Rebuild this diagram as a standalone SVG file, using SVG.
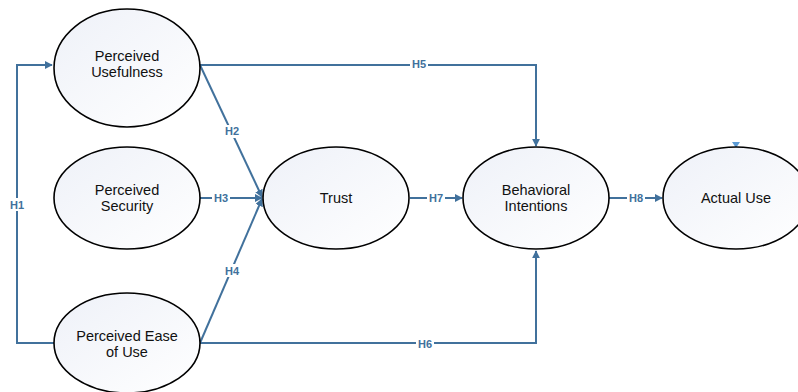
<svg xmlns="http://www.w3.org/2000/svg" width="798" height="392" viewBox="0 0 798 392">
<defs>
<linearGradient id="g" x1="0" y1="0" x2="1" y2="1">
<stop offset="0" stop-color="#eef1f8"/>
<stop offset="1" stop-color="#ffffff"/>
</linearGradient>
<marker id="arr" viewBox="0 0 10 10" refX="9" refY="5" markerWidth="4" markerHeight="4" orient="auto" markerUnits="strokeWidth">
<path d="M0,0 L10,5 L0,10 Z" fill="#41719c"/>
</marker>
<style>
.n{fill:url(#g);stroke:#000;stroke-width:1.6}
.t{font-family:"Liberation Sans",Arial,sans-serif;font-size:14.5px;fill:#111;text-anchor:middle}
.c{fill:none;stroke:#41719c;stroke-width:2}
.l{font-family:"Liberation Sans",Arial,sans-serif;font-size:11px;font-weight:bold;fill:#41719c;text-anchor:middle}
.bg{fill:#fff}
</style>
</defs>
<rect width="798" height="392" fill="#fff"/>
<g id="connectors">
<path class="c" d="M200,343 H17 V65 H52" marker-end="url(#arr)"/>
<path class="c" d="M200,65 H536 V146" marker-end="url(#arr)"/>
<path class="c" d="M200,343 H536 V251" marker-end="url(#arr)"/>
<path class="c" d="M200,65 L262,197" marker-end="url(#arr)"/>
<path class="c" d="M200,198 H262" marker-end="url(#arr)"/>
<path class="c" d="M200,343 L262,199" marker-end="url(#arr)"/>
<path class="c" d="M410,198 H462" marker-end="url(#arr)"/>
<path class="c" d="M609,198 H662" marker-end="url(#arr)"/>
<path d="M732,142 L740,142 L736,148 Z" fill="#5b9bd5"/>
<rect class="bg" x="8" y="198" width="18" height="13"/>
<text class="l" x="17" y="209">H1</text>
<rect class="bg" x="223" y="125" width="18" height="13"/>
<text class="l" x="232" y="135">H2</text>
<rect class="bg" x="212" y="192" width="18" height="12"/>
<text class="l" x="221" y="202">H3</text>
<rect class="bg" x="223" y="264" width="18" height="13"/>
<text class="l" x="232" y="275">H4</text>
<rect class="bg" x="410" y="59" width="18" height="12"/>
<text class="l" x="419" y="68">H5</text>
<rect class="bg" x="416" y="338" width="18" height="12"/>
<text class="l" x="425" y="348">H6</text>
<rect class="bg" x="427" y="192" width="18" height="12"/>
<text class="l" x="436" y="202">H7</text>
<rect class="bg" x="627" y="192" width="18" height="12"/>
<text class="l" x="636" y="202">H8</text>
</g>
<g id="pu">
<ellipse class="n" cx="127" cy="68" rx="73" ry="59"/>
<text class="t" x="127" y="61">Perceived</text>
<text class="t" x="127" y="77">Usefulness</text>
</g>
<g id="ps">
<ellipse class="n" cx="127" cy="198" rx="73" ry="51"/>
<text class="t" x="127" y="195">Perceived</text>
<text class="t" x="127" y="211">Security</text>
</g>
<g id="peou">
<ellipse class="n" cx="127" cy="343" rx="73" ry="50"/>
<text class="t" x="127" y="341">Perceived Ease</text>
<text class="t" x="127" y="357">of Use</text>
</g>
<g id="trust">
<ellipse class="n" cx="336" cy="198" rx="73" ry="51"/>
<text class="t" x="336" y="203">Trust</text>
</g>
<g id="bi">
<ellipse class="n" cx="536" cy="198" rx="73" ry="51"/>
<text class="t" x="536" y="195">Behavioral</text>
<text class="t" x="536" y="211">Intentions</text>
</g>
<g id="au">
<ellipse class="n" cx="736" cy="198" rx="73" ry="51"/>
<text class="t" x="736" y="203">Actual Use</text>
</g>
</svg>
